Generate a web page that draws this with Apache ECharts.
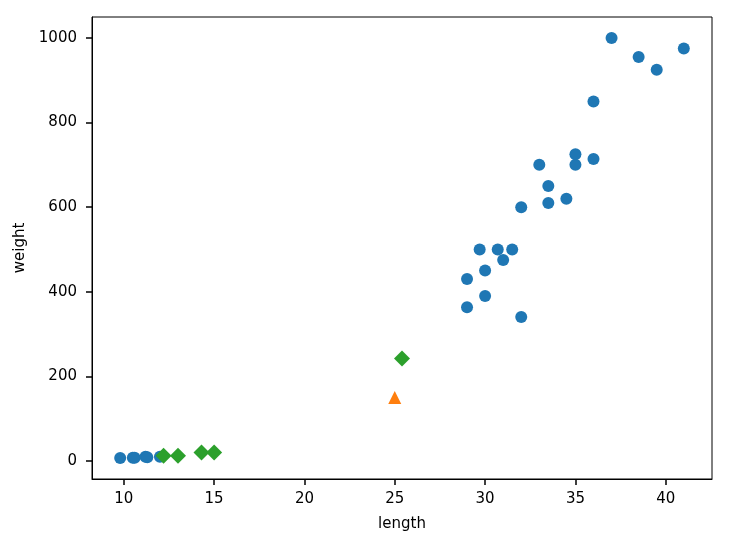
<!DOCTYPE html>
<html>
<head>
<meta charset="utf-8">
<script src="https://cdn.jsdelivr.net/npm/echarts@6/dist/echarts.min.js"></script>
<style>
  html, body { margin: 0; padding: 0; background: #fff; }
  #main { width: 740px; height: 554px; }
</style>
</head>
<body>
<div id="main"></div>
<script>
// training points (length, weight)
var trainLength = [9.8, 10.5, 10.6, 11.2, 11.3, 12.0,
  29.0, 29.0, 29.7, 30.0, 30.0, 30.7, 31.0, 31.5, 32.0, 32.0,
  33.0, 33.5, 33.5, 34.5, 35.0, 35.0, 36.0, 36.0, 37.0, 38.5, 39.5, 41.0];
var trainWeight = [6.7, 7.5, 7.0, 9.8, 8.7, 9.8,
  430, 363, 500, 450, 390, 500, 475, 500, 600, 340,
  700, 650, 610, 620, 700, 725, 714, 850, 1000, 955, 925, 975];

// new sample
var newLength = [25];
var newWeight = [150];

// nearest neighbours
var nbLength = [25.4, 15.0, 14.3, 13.0, 12.2];
var nbWeight = [242, 19.9, 19.7, 12.2, 12.2];

var xTicks = [10, 15, 20, 25, 30, 35, 40];
var yTicks = [0, 200, 400, 600, 800, 1000];

function zip(a, b) {
  var out = [];
  for (var i = 0; i < a.length; i++) out.push([a[i], b[i]]);
  return out;
}

var myChart = echarts.init(document.getElementById('main'), null, { renderer: 'canvas' });

var font = 'DejaVu Sans';
var option = {
  animation: false,
  grid: {
    left: 92, right: 28, top: 17, bottom: 75,
    show: true, borderColor: '#000', borderWidth: 1, backgroundColor: 'transparent'
  },
  xAxis: {
    type: 'value',
    min: 8.24, max: 42.56,
    name: 'length',
    nameLocation: 'middle',
    nameGap: 38,
    nameTextStyle: { color: '#000', fontFamily: font, fontSize: 15 },
    axisLine: { show: true, onZero: false, lineStyle: { color: '#000', width: 1 } },
    axisTick: { show: true, inside: false, length: 6, customValues: xTicks, lineStyle: { color: '#000', width: 1.5 } },
    axisLabel: { color: '#000', fontFamily: font, fontSize: 15, margin: 13, customValues: xTicks,
      formatter: function (v) { return String(v); } },
    splitLine: { show: false }
  },
  yAxis: {
    type: 'value',
    min: -43, max: 1049.7,
    name: 'weight',
    nameLocation: 'middle',
    nameGap: 60,
    nameRotate: 90,
    nameTextStyle: { color: '#000', fontFamily: font, fontSize: 15 },
    axisLine: { show: true, onZero: false, lineStyle: { color: '#000', width: 1 } },
    axisTick: { show: true, inside: false, length: 6, customValues: yTicks, lineStyle: { color: '#000', width: 1.5 } },
    axisLabel: { color: '#000', fontFamily: font, fontSize: 15, margin: 15, customValues: yTicks,
      formatter: function (v) { return String(v); } },
    splitLine: { show: false }
  },
  series: [
    {
      type: 'scatter',
      data: zip(trainLength, trainWeight),
      symbol: 'circle',
      symbolSize: 12,
      itemStyle: { color: '#1f77b4', opacity: 1 }
    },
    {
      type: 'scatter',
      data: zip(newLength, newWeight),
      symbol: 'triangle',
      symbolSize: 13,
      itemStyle: { color: '#ff7f0e', opacity: 1 }
    },
    {
      type: 'scatter',
      data: zip(nbLength, nbWeight),
      symbol: 'diamond',
      symbolSize: 16,
      itemStyle: { color: '#2ca02c', opacity: 1 }
    }
  ]
};

myChart.setOption(option);
window.addEventListener('resize', myChart.resize);
</script>
</body>
</html>
